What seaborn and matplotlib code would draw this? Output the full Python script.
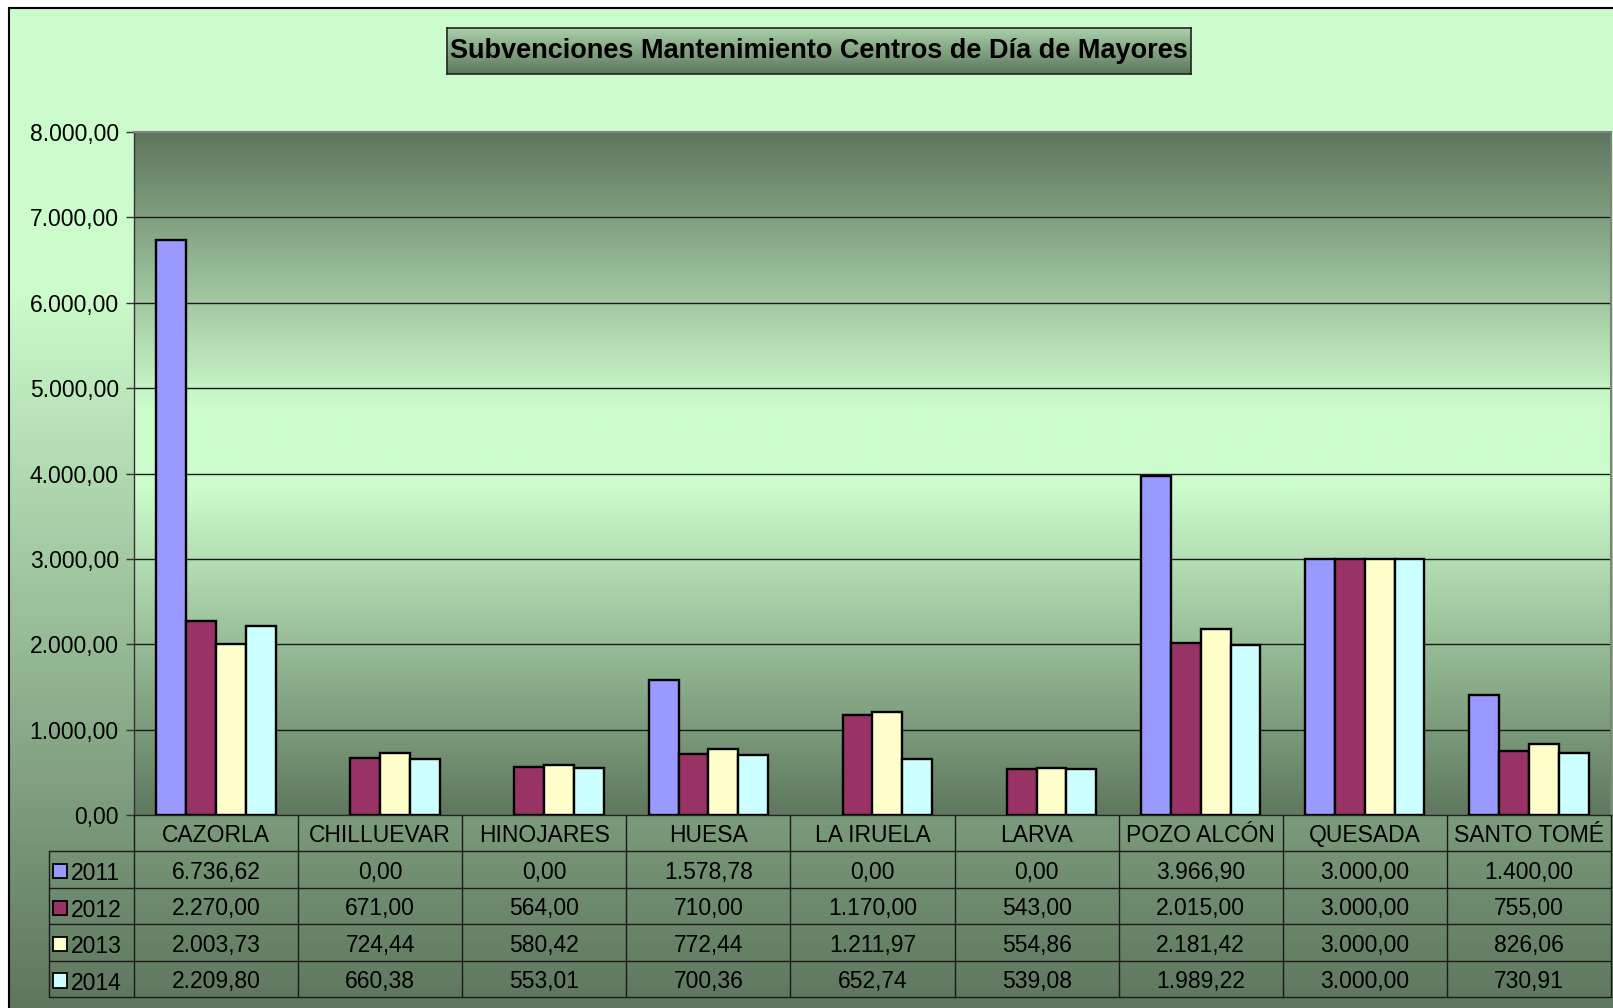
import numpy as np
import pandas as pd
import matplotlib
matplotlib.use("Agg")
import matplotlib.pyplot as plt
from matplotlib.colors import LinearSegmentedColormap
from matplotlib.patches import Rectangle
import seaborn as sns

sns.set_theme(style="white")
plt.rcParams['font.family'] = ['Liberation Sans', 'DejaVu Sans']

categories = ["CAZORLA", "CHILLUEVAR", "HINOJARES", "HUESA", "LA IRUELA",
              "LARVA", "POZO ALCÓN", "QUESADA", "SANTO TOMÉ"]
years = ["2011", "2012", "2013", "2014"]
v2011 = [6736.62, 0.00, 0.00, 1578.78, 0.00, 0.00, 3966.90, 3000.00, 1400.00]
v2012 = [2270.00, 671.00, 564.00, 710.00, 1170.00, 543.00, 2015.00, 3000.00, 755.00]
v2013 = [2003.73, 724.44, 580.42, 772.44, 1211.97, 554.86, 2181.42, 3000.00, 826.06]
v2014 = [2209.80, 660.38, 553.01, 700.36, 652.74, 539.08, 1989.22, 3000.00, 730.91]
yticks = [0, 1000, 2000, 3000, 4000, 5000, 6000, 7000, 8000]
title = "Subvenciones Mantenimiento Centros de Día de Mayores"
colors = ["#9999ff", "#993366", "#ffffcc", "#ccffff"]

series = [v2011, v2012, v2013, v2014]
df = pd.DataFrame({
    "Municipio": categories * 4,
    "Año": [y for y in years for _ in categories],
    "Valor": [v for s in series for v in s],
})


def fmt(v):
    s = f"{v:,.2f}"
    return s.replace(",", "X").replace(".", ",").replace("X", ".")


W, H = 1613, 1008
FS = 16.5
fig = plt.figure(figsize=(W / 100, H / 100), dpi=100)
fig.patch.set_facecolor("white")


def px_rect(x0, y0, x1, y1):
    return [x0 / W, 1 - y1 / H, (x1 - x0) / W, (y1 - y0) / H]


# Chart area background (gradient)
bg = fig.add_axes(px_rect(9, 8, W + 2, H + 2), zorder=-10)
light = "#ccfccc"
dark = "#5e765e"
cm_bg = LinearSegmentedColormap.from_list("bg", [(0, light), (0.28, light), (1, dark)])
bg.imshow(np.linspace(0, 1, 256).reshape(-1, 1), cmap=cm_bg, aspect="auto",
          extent=[0, 1, 0, 1], origin="upper")
bg.set_xlim(0, 1); bg.set_ylim(0, 1)
bg.set_xticks([]); bg.set_yticks([])
for side in ["right", "bottom"]:
    bg.spines[side].set_visible(False)
for side in ["left", "top"]:
    bg.spines[side].set_color("black")
    bg.spines[side].set_linewidth(1.5)

# Main plot axes
ax = fig.add_axes(px_rect(134, 132, 1611, 815), zorder=1)
cm_pa = LinearSegmentedColormap.from_list(
    "pa", [(0, dark), (0.40, light), (0.52, light), (1, "#5f785f")])
ax.imshow(np.linspace(0, 1, 256).reshape(-1, 1), cmap=cm_pa, aspect="auto",
          extent=[0, 1, 0, 1], origin="upper", transform=ax.transAxes, zorder=0)

sns.barplot(data=df, x="Municipio", y="Valor", hue="Año", hue_order=years,
            palette=colors, order=categories, width=0.727, gap=0,
            edgecolor="black", linewidth=1.7, saturation=1, legend=False,
            errorbar=None, ax=ax, zorder=3)
for p in ax.patches:
    if abs(p.get_height()) < 1e-9:
        p.set_visible(False)

ax.set_xlim(-0.5, len(categories) - 0.5)
ax.set_ylim(0, 8000)
ax.set_yticks(yticks)
ax.set_yticklabels([fmt(t) for t in yticks], fontsize=FS, color="black")
ax.set_xticks([])
ax.set_xlabel("")
ax.set_ylabel("")
for t in yticks[1:-1]:
    ax.axhline(t, color="#1a1a1a", lw=1.0, zorder=1)
ax.tick_params(axis="y", direction="out", length=6, width=1, color="#333333",
               pad=5, left=True)
ax.spines["left"].set_color("#333333")
ax.spines["left"].set_linewidth(1)
ax.spines["bottom"].set_color("#222222")
ax.spines["bottom"].set_linewidth(1)
ax.spines["top"].set_color("#808080")
ax.spines["top"].set_linewidth(1.5)
ax.spines["right"].set_color("#808080")
ax.spines["right"].set_linewidth(1.5)
ax.patch.set_alpha(0)

# Data table
n = len(categories)
cat_w = (1611 - 134) / n
leg_w = (134 - 49) / cat_w
tab = fig.add_axes(px_rect(49, 815, 1611, 997), zorder=2)
tab.set_xlim(-0.5 - leg_w, n - 0.5)
tab.set_ylim(5, 0)
tab.axis("off")
tab.patch.set_alpha(0)
lc = "#1a1a1a"
lw = 1.0
x_left = -0.5 - leg_w
for k in range(n + 1):
    tab.plot([-0.5 + k, -0.5 + k], [0, 5], color=lc, lw=lw, clip_on=False)
tab.plot([x_left, x_left], [1, 5], color=lc, lw=lw, clip_on=False)
for r in range(1, 6):
    tab.plot([x_left, n - 0.5], [r, r], color=lc, lw=lw, clip_on=False)
for i, c in enumerate(categories):
    tab.text(i, 0.56, c, ha="center", va="center", fontsize=FS, color="black")
for r, (yr, s, col) in enumerate(zip(years, series, colors)):
    yc = r + 1.55
    for i, v in enumerate(s):
        tab.text(i, yc + 0.03, fmt(v), ha="center", va="center", fontsize=FS, color="black")
    sq = 14 / cat_w
    tab.add_patch(Rectangle((x_left + 4 / cat_w, yc - 0.2), sq, 0.39,
                            facecolor=col, edgecolor="black", lw=1.3))
    tab.text(x_left + 22 / cat_w, yc + 0.07, yr, ha="left", va="center",
             fontsize=FS, color="black")

# Title box with gradient
tax = fig.add_axes(px_rect(447, 28, 1191, 74), zorder=5)
cm_t = LinearSegmentedColormap.from_list("t", ["#a9cfa9", "#5c785c"])
tax.imshow(np.linspace(0, 1, 64).reshape(-1, 1), cmap=cm_t, aspect="auto",
           extent=[0, 1, 0, 1], origin="upper")
tax.set_xlim(0, 1); tax.set_ylim(0, 1)
tax.set_xticks([]); tax.set_yticks([])
for sp in tax.spines.values():
    sp.set_color("#222222")
    sp.set_linewidth(1.2)
tax.text(0.5, 0.5, title, ha="center", va="center", fontsize=19.5,
         fontweight="bold", color="black", transform=tax.transAxes)

fig.savefig("out.png", dpi=100)
